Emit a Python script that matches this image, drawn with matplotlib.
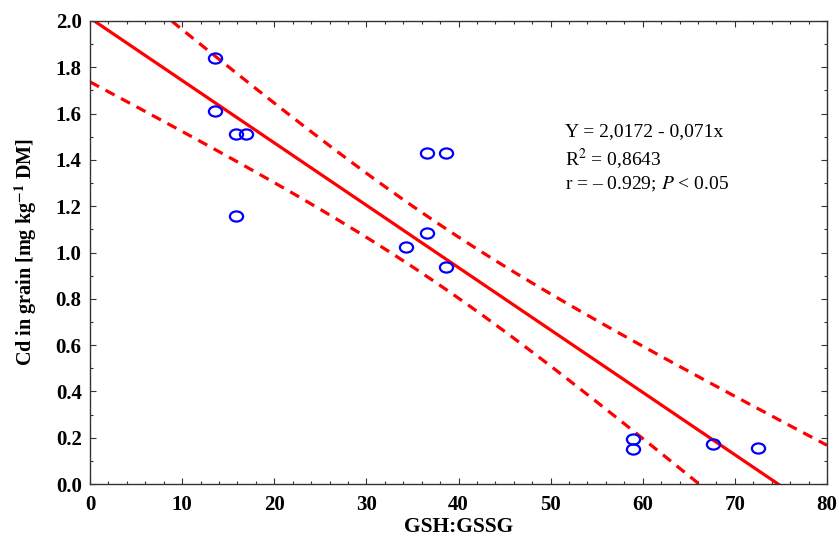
import numpy as np
import matplotlib
matplotlib.use("Agg")
import matplotlib.pyplot as plt
from matplotlib.path import Path

# GSH:GSSG ratio vs Cd content in grain
gsh_gssg = [13.6, 13.6, 15.9, 16.9, 15.9, 36.6, 38.6, 34.3, 36.6, 38.6, 58.9, 58.9, 67.6, 72.5]
cd_grain = [1.842, 1.611, 1.511, 1.511, 1.158, 1.428, 1.428, 1.024, 1.086, 0.938, 0.193, 0.150, 0.171, 0.154]

equation = "Y = 2,0172 - 0,071x"
r_squared = "R$^2$ = 0,8643"
corr_text = "r = \u2013 0.929; $P$ < 0.05"

plt.rcParams["font.family"] = ["Liberation Serif", "DejaVu Serif"]
plt.rcParams["mathtext.fontset"] = "stix"

x = np.array(gsh_gssg)
y = np.array(cd_grain)
n = len(x)

# least squares fit + 95% confidence band of the mean (normal approx.)
b, a = np.polyfit(x, y, 1)
resid = y - (a + b * x)
s = np.sqrt(np.sum(resid ** 2) / (n - 2))
sxx = np.sum((x - x.mean()) ** 2)
z = 1.96
xx = np.linspace(0, 80, 400)
fit = a + b * xx
half = z * s * np.sqrt(1 / n + (xx - x.mean()) ** 2 / sxx)

fig = plt.figure(figsize=(8.39, 5.41), dpi=100)
ax = fig.add_axes([90 / 839, 1 - 484 / 541, 737 / 839, 463 / 541])

ax.plot(xx, fit, color="#ff0000", lw=2.3)
ax.plot(xx, fit + half, color="#ff0000", lw=2.3, ls=(0, (3.2, 2.3)))
ax.plot(xx, fit - half, color="#ff0000", lw=2.3, ls=(0, (3.2, 2.3)))

# slightly flattened open circle
circ = Path.unit_circle()
oval = Path(circ.vertices * np.array([1.3, 1.0]), circ.codes)
ax.plot(x, y, ls="none", marker=oval, markersize=9.5, mfc="none",
        mec="#0000ff", mew=1.6, zorder=3)

ax.set_xlim(0, 80)
ax.set_ylim(0, 2.0)
ax.set_xticks(np.arange(0, 81, 10))
ax.set_xticks(np.arange(0, 81, 2), minor=True)
ax.set_yticks(np.arange(0, 2.01, 0.2))
ax.set_yticks(np.arange(0, 2.01, 0.1), minor=True)
ax.set_yticklabels([f"{v:.1f}" for v in np.arange(0, 2.01, 0.2)])
ax.tick_params(which="both", direction="in", top=True, right=True,
               color="#333333", width=0.8)
ax.tick_params(which="major", length=4, labelsize=15)
ax.tick_params(axis="x", which="major", pad=8)
ax.tick_params(axis="y", which="major", pad=6)
ax.tick_params(which="minor", length=2.5)
for lab in ax.get_xticklabels() + ax.get_yticklabels():
    lab.set_fontweight("bold")
for sp in ax.spines.values():
    sp.set_color("#333333")
    sp.set_linewidth(1.0)

ax.set_xlabel("GSH:GSSG", fontsize=15.5, fontweight="bold", labelpad=1)
ax.set_ylabel("Cd in grain [mg kg$^{\\mathbf{-1}}$ DM]", fontsize=14.5,
              fontweight="bold", labelpad=12)

ax.text(51.6, 1.56, equation + "\n" + r_squared + "\n" + corr_text,
        fontsize=14, va="top", ha="left", linespacing=1.3)

fig.savefig("out.png", dpi=100)
